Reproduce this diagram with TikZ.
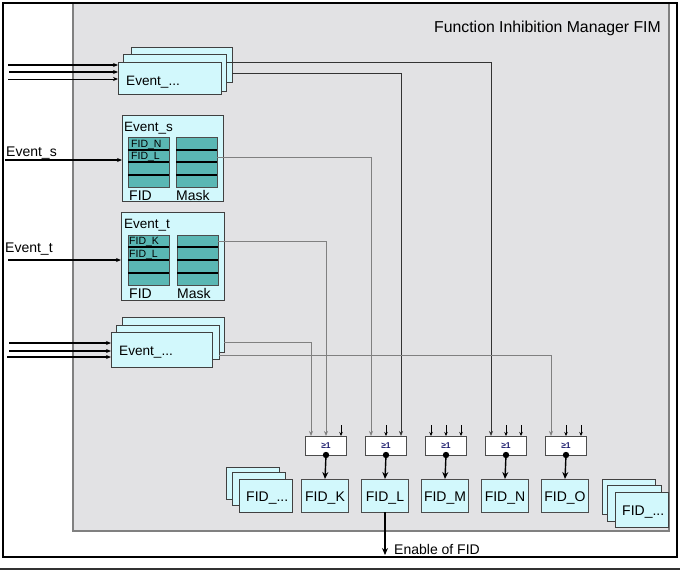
\documentclass[tikz,border=0pt]{standalone}
\usepackage{fontspec}
\setmainfont{Liberation Sans}
\usetikzlibrary{arrows.meta,calc}
\definecolor{card}{RGB}{210,248,252}
\definecolor{cell}{RGB}{90,183,180}
\definecolor{fimbg}{RGB}{226,226,228}
\definecolor{gatetxt}{RGB}{30,30,110}
\begin{document}
\begin{tikzpicture}[x=1pt,y=-1pt,
  card/.style={draw=black!75, fill=card, line width=0.8pt, anchor=north west, inner sep=0pt, outer sep=0pt},
  cellcol/.style={draw=black!70, fill=cell, line width=0.8pt, anchor=north west, inner sep=0pt, outer sep=0pt, minimum width=41pt, minimum height=50pt},
  rowline/.style={line width=1.3pt, black},
  gate/.style={draw=black!70, fill=white, line width=0.8pt, minimum width=41pt, minimum height=19pt, inner sep=0pt, outer sep=0pt, font=\fontsize{8.5}{9}\selectfont\bfseries, text=gatetxt},
  fidbox/.style={draw=black!70, fill=card, line width=0.8pt, minimum width=47pt, minimum height=33pt, inner sep=0pt, outer sep=0pt},
  lbl/.style={font=\fontsize{14}{16}\selectfont, inner sep=0pt, anchor=base west},
  small/.style={font=\fontsize{10.5}{12}\selectfont, inner sep=0pt, anchor=base west},
  tip/.style={-{Stealth[length=5pt,width=4pt]}},
  feed/.style={line width=0.8pt, black!80, tip},
  feedg/.style={line width=0.9pt, gray, tip},
  stub/.style={line width=0.6pt, black, -{Stealth[length=4pt,width=3.5pt]}},
  inp/.style={black, -{Stealth[length=5pt,width=4pt]}},
  outp/.style={line width=1.4pt, black, -{Stealth[length=7pt,width=6pt]}}
]
\useasboundingbox (0,0) rectangle (680,570);
\fill[white] (0,0) rectangle (680,570);
% FIM area
\draw[fill=fimbg, draw=gray, line width=1.4pt] (73,3) rectangle (669,531);
\draw[line width=1.5pt] (3,3) rectangle (677,557);
\draw[line width=2pt, black!80] (0,568.5) -- (680,568.5);
\node[anchor=base east, inner sep=0pt, font=\fontsize{15.8}{17}\selectfont] (title) at (661,32) {Function Inhibition Manager FIM};

% top event stack
\node[card, minimum width=101pt, minimum height=35pt] (ts1) at (131,47) {};
\node[card, minimum width=103pt, minimum height=37pt] (ts2) at (123,54) {};
\node[card, minimum width=103pt, minimum height=32pt] (ts3) at (118,62) {};
\node[lbl, font=\fontsize{13.6}{15}\selectfont] (ts3l) at (126,85) {Event\_...};
\coordinate (ti1) at (8,65);
\coordinate (ti2) at (9,72);
\coordinate (ti3) at (8,79);
\draw[inp, line width=2pt] (ti1) -- (ti1 -| ts3.west);
\draw[inp, line width=2pt] (ti2) -- (ti2 -| ts3.west);
\draw[inp, line width=1pt] (ti3) -- (ti3 -| ts3.west);

% Event_s
\node[card, minimum width=101pt, minimum height=86pt] (es) at (122,115) {};
\node[lbl, font=\fontsize{13.5}{15}\selectfont] (esl) at (124,131) {Event\_s};
\node[cellcol] (esf) at (128,137) {};
\node[cellcol] (esm) at (176,137) {};
\foreach \yy in {150,162,175}{
  \draw[rowline] (esf.west |- 0,\yy) -- (esf.east |- 0,\yy);
  \draw[rowline] (esm.west |- 0,\yy) -- (esm.east |- 0,\yy);
}
\node[small] (esn) at (131,147) {FID\_N};
\node[small] (esl2) at (131,159.5) {FID\_L};
\node[lbl] (esfl) at (129,200) {FID};
\node[lbl] (esml) at (176,200) {Mask};
\coordinate (esin) at (5,160);
\draw[inp, line width=1.5pt] (esin) -- (esin -| es.west);
\node[lbl] (esinl) at (6,156) {Event\_s};

% Event_t
\node[card, minimum width=103pt, minimum height=88pt] (et) at (121,212) {};
\node[lbl, font=\fontsize{13.5}{15}\selectfont] (etl) at (124,228) {Event\_t};
\node[cellcol] (etf) at (128,235) {};
\node[cellcol] (etm) at (177,235) {};
\foreach \yy in {247,260,273}{
  \draw[rowline] (etf.west |- 0,\yy) -- (etf.east |- 0,\yy);
  \draw[rowline] (etm.west |- 0,\yy) -- (etm.east |- 0,\yy);
}
\node[small] (etk) at (129,244) {FID\_K};
\node[small] (etl2) at (129,257) {FID\_L};
\node[lbl] (etfl) at (129,298) {FID};
\node[lbl] (etml) at (177,298) {Mask};
\coordinate (etin) at (8,260);
\draw[inp, line width=2.5pt] (etin) -- (etin -| et.west);
\node[lbl] (etinl) at (5,252) {Event\_t};

% bottom event stack
\node[card, minimum width=102pt, minimum height=35pt] (bs1) at (122,317) {};
\node[card, minimum width=103pt, minimum height=34pt] (bs2) at (116,325) {};
\node[card, minimum width=101pt, minimum height=35pt] (bs3) at (111,332) {};
\node[lbl, font=\fontsize{13.6}{15}\selectfont] (bs3l) at (119,355) {Event\_...};
\coordinate (bi1) at (9,343);
\coordinate (bi2) at (9,351);
\coordinate (bi3) at (7,357);
\draw[inp, line width=2pt] (bi1) -- (bi1 -| bs3.west);
\draw[inp, line width=2pt] (bi2) -- (bi2 -| bs3.west);
\draw[inp, line width=2.5pt] (bi3) -- (bi3 -| bs3.west);

% gates and FID boxes
\foreach \n/\k in {K/0,L/1,M/2,N/3,O/4}{
  \node[gate] (g\n) at (326+60*\k,445.5) {≥1};
  \node[fidbox] (f\n) at (325+60*\k,495.5) {};
  \node[lbl, anchor=base] (f\n t) at (325+60*\k,501.5) {FID\_\n};
  \coordinate (g\n a) at ($(g\n.north)+(-15,0)$);
  \coordinate (g\n b) at (g\n.north);
  \coordinate (g\n c) at ($(g\n.north)+(15,0)$);
  \fill (g\n.south) circle (3.2pt);
  \draw[outp] (g\n.south) -- (f\n.north);
}
% unconnected inputs
\foreach \p in {gKc,gLb,gMa,gMb,gMc,gNb,gNc,gOb,gOc}{
  \draw[stub] ($(\p)+(0,-11)$) -- (\p);
}
% feed lines
\draw[feed] ($(ts2.north east)+(0,8)$) -| (gNa);
\draw[feed] ($(ts1.north east)+(0,26)$) -| (gLc);
\draw[feedg] ($(esm.north east)+(0,20)$) -| (gLa);
\draw[feedg] ($(etm.north east)+(0,6)$) -| (gKb);
\draw[feedg] ($(bs1.north east)+(0,25)$) -| (gKa);
\draw[feedg] ($(bs2.north east)+(0,30)$) -| (gOa);

% FID_... stacks
\node[card, minimum width=53pt, minimum height=32pt] (fl1) at (226,467) {};
\node[card, minimum width=53pt, minimum height=33pt] (fl2) at (232,472) {};
\node[card, minimum width=53pt, minimum height=33pt] (fl3) at (239,479) {};
\node[lbl] (fl3t) at (246,501.5) {FID\_...};
\node[card, minimum width=53pt, minimum height=35pt] (fr1) at (602,479) {};
\node[card, minimum width=54pt, minimum height=36pt] (fr2) at (607,485) {};
\node[card, minimum width=53pt, minimum height=35pt] (fr3) at (615,492) {};
\node[lbl] (fr3t) at (622,515) {FID\_...};

% enable
\coordinate (en) at ($(fL.south)+(0,43)$);
\draw[outp] (fL.south) -- (en);
\node[lbl] (enl) at (394,554) {Enable of FID};
\end{tikzpicture}
\end{document}
